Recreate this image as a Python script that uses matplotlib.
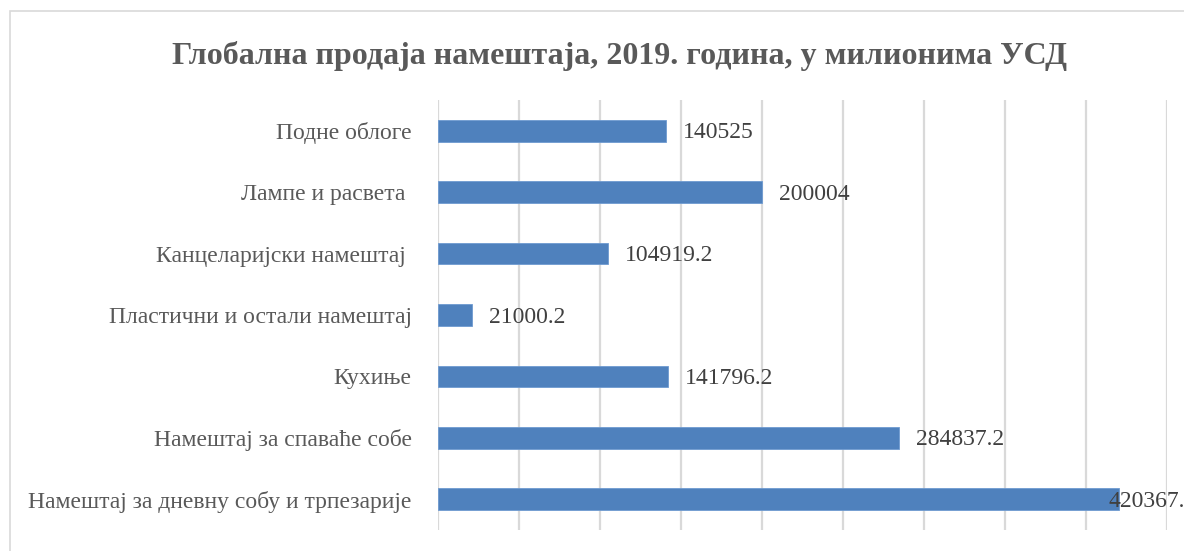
import matplotlib
matplotlib.use('Agg')
import matplotlib.pyplot as plt
from matplotlib.patches import Rectangle

# подаци (од доле ка горе)
categories = [
    'Намештај за дневну собу и трпезарије',
    'Намештај за спаваће собе',
    'Кухиње',
    'Пластични и остали намештај',
    'Канцеларијски намештај ',
    'Лампе и расвета ',
    'Подне облоге',
]
values = [420367.8, 284837.2, 141796.2, 21000.2, 104919.2, 200004, 140525]
value_labels = ['420367.8', '284837.2', '141796.2', '21000.2', '104919.2', '200004', '140525']
title = 'Глобална продаја намештаја, 2019. година, у милионима УСД'

plt.rcParams['font.family'] = ['Liberation Serif', 'DejaVu Serif']

fig = plt.figure(figsize=(11.84, 5.51), dpi=100)
W, H = 1184, 551

# оквир графикона
fig.patches.append(Rectangle((10 / W, -0.1), 1.2, 1 - 11 / H + 0.1, transform=fig.transFigure,
                             fill=False, edgecolor='#d9d9d9', linewidth=1.2))

ax = fig.add_axes([438 / W, 1 - 530 / H, (1167 - 438) / W, (530 - 100) / H])
ypos = range(len(categories))
ax.barh(ypos, values, height=0.355, color='#4f81bd', edgecolor='#6f9bd1', linewidth=0.6, zorder=3)

ax.set_xlim(0, 450000)
ax.set_ylim(-0.5, len(categories) - 0.5)
ax.set_xticks(range(0, 450001, 50000))
ax.grid(axis='x', color='#d9d9d9', linewidth=1.6, zorder=0)
ax.tick_params(axis='x', length=0, labelbottom=False)
ax.tick_params(axis='y', length=0, pad=19, labelsize=17, labelcolor='#595959')
ax.set_yticks(list(ypos))
ax.set_yticklabels(categories)
for s in ax.spines.values():
    s.set_visible(False)

vmax = max(values)
for y, v, lab in zip(ypos, values, value_labels):
    # највећа вредност: ознака прелази преко краја траке (као у Excel-у)
    dx = -10 if v == vmax else 17
    ax.annotate(lab, (v, y), xytext=(dx, -2), textcoords='offset pixels',
                va='center', ha='left', fontsize=17, color='#404040', zorder=4,
                annotation_clip=False)

fig.text(620 / W, 1 - 56 / H, title, ha='center', va='center', fontsize=23,
         fontweight='bold', color='#595959')

fig.savefig('out.png', dpi=100)
